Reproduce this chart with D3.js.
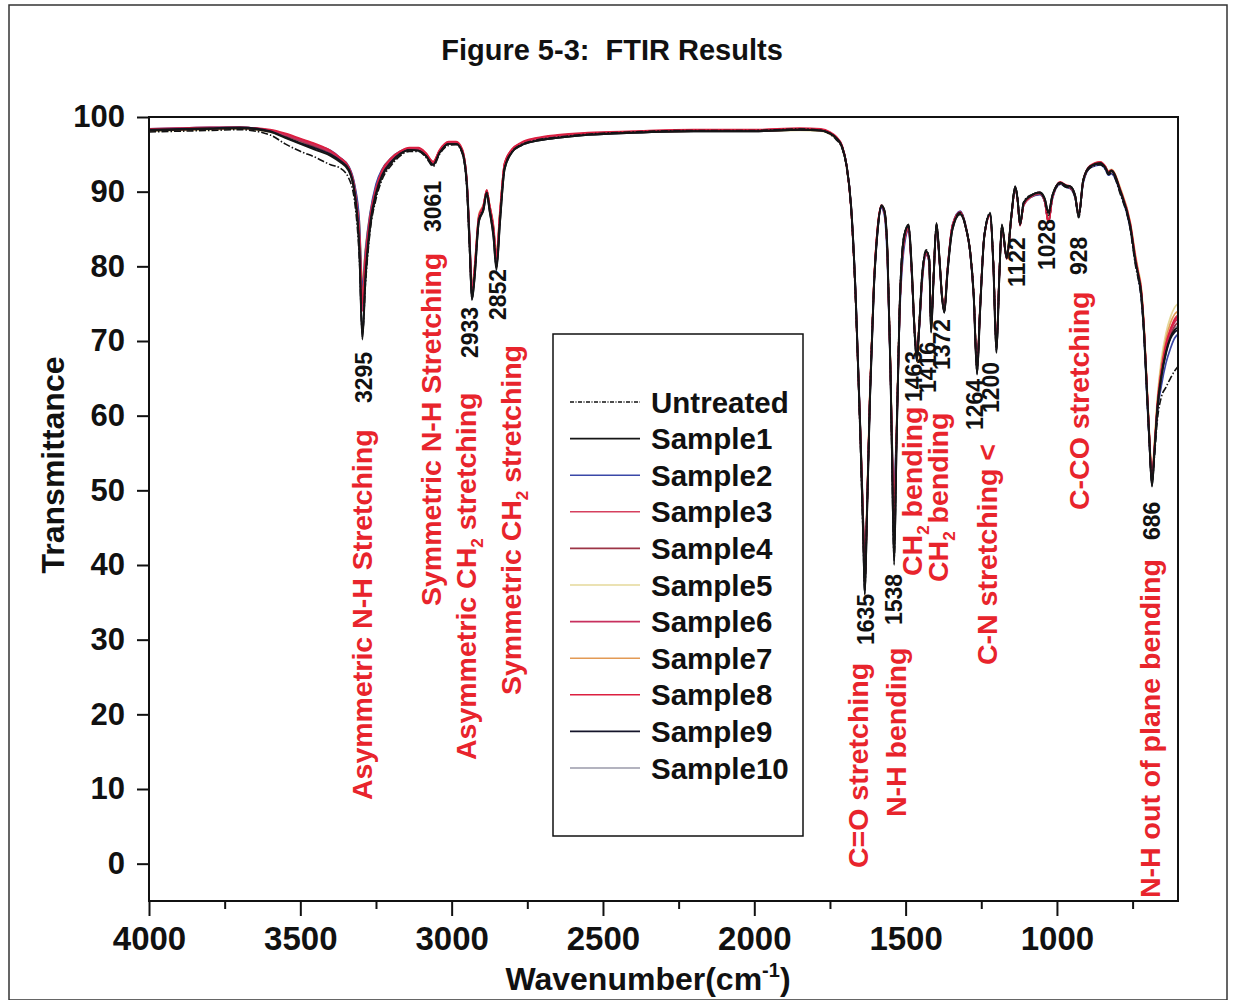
<!DOCTYPE html>
<html><head><meta charset="utf-8">
<script src="https://cdn.jsdelivr.net/npm/d3@7/dist/d3.min.js"></script>
<style>
body{margin:0;background:#fff}
svg text{font-family:"Liberation Sans",Arial,Helvetica,sans-serif;font-weight:bold;white-space:pre}
</style>
</head><body>
<svg id="chart" width="1235" height="1000"></svg>
<script>
// ---------------- DATA ----------------
const wavenumbers = [
4000,3900,3800,3700,3600,3550,3500,3450,3400,3370,3340,3320,3305,3295,3285,3270,3250,3230,3200,3170,
3140,3110,3085,3061,3040,3010,2985,2965,2950,2940,2933,2925,2910,2895,2884,2875,2862,2852,2840,2825,
2800,2770,2720,2650,2550,2400,2200,2000,1850,1780,1750,1730,1710,1695,1680,1665,1650,1640,1635,1628,
1618,1605,1592,1580,1570,1560,1550,1545,1538,1530,1520,1505,1490,1480,1470,1463,1455,1445,1432,1422,
1416,1408,1398,1388,1380,1372,1362,1345,1320,1300,1287,1275,1264,1254,1240,1221,1210,1200,1190,1182,
1166,1150,1138,1130,1122,1110,1089,1056,1040,1028,1015,989,970,956,940,928,913,890,857,840,
830,820,790,758,740,731,722,712,704,695,686,678,668,655,640,625,611,600];

const untreated = [
98.0,98.1,98.2,98.3,97.6,96.4,95.4,94.6,93.6,93.2,91.8,88.5,81.0,71.0,77.5,84.5,89.0,91.6,93.5,94.8,
95.4,95.4,94.6,93.4,95.0,96.2,96.3,95.1,90.5,81.5,75.8,78.5,86.2,87.8,89.9,87.8,84.5,80.0,86.5,93.2,
95.4,96.3,96.9,97.3,97.7,98.0,98.2,98.2,98.4,98.2,97.7,97.0,95.8,93.2,87.5,75.0,57.0,43.0,36.5,46.5,
62.5,77.0,85.2,88.0,87.3,81.5,65.5,54.0,41.0,57.0,74.5,84.2,85.4,79.5,70.5,67.8,72.5,79.2,82.2,81.0,
71.5,78.5,85.6,80.8,76.2,74.0,79.2,85.2,87.2,85.2,82.2,76.5,66.0,74.5,84.2,87.2,80.5,68.8,79.2,85.4,
81.5,87.2,90.6,89.2,85.8,88.6,89.5,89.8,88.8,86.8,89.4,91.0,90.6,90.5,89.2,86.5,91.4,93.2,93.6,93.0,
92.3,92.5,89.6,85.0,80.0,78.2,75.8,70.5,64.0,56.5,51.0,54.5,59.5,62.5,63.8,65.0,66.0,66.6];

const sample1 = [
98.2,98.3,98.4,98.5,98.0,97.2,96.4,95.6,94.8,94.0,92.8,89.5,82.0,70.2,78.0,85.0,89.5,92.0,93.8,95.0,
95.6,95.5,94.8,93.6,95.2,96.4,96.4,95.3,91.0,82.0,75.5,78.0,86.0,87.5,89.8,87.5,84.0,79.5,86.0,93.0,
95.3,96.2,96.8,97.2,97.6,97.9,98.1,98.1,98.3,98.2,97.8,97.2,96.0,93.5,88.0,76.0,58.0,44.0,36.0,46.0,
62.0,77.0,85.0,88.2,87.5,82.0,66.0,55.0,40.0,56.0,74.0,84.0,85.6,80.0,71.0,67.3,72.0,79.0,82.0,81.0,
71.1,78.0,85.8,81.0,76.0,73.8,79.0,85.0,87.0,85.0,82.0,76.0,65.5,74.0,84.0,87.0,80.0,68.4,79.0,85.6,
81.1,87.0,90.7,89.0,85.6,88.5,89.4,89.9,89.0,87.2,89.5,91.2,90.8,90.7,89.5,86.7,91.6,93.4,93.8,93.2,
92.5,92.8,90.0,85.4,80.5,78.7,76.5,71.0,64.4,57.0,50.5,55.0,61.0,65.3,68.5,70.5,71.5,71.8];

const sample2 = [
98.4,98.5,98.6,98.6,98.2,97.6,96.9,96.2,95.5,94.6,93.4,90.8,86.0,77.0,82.0,87.0,91.0,93.0,94.5,95.4,
95.8,95.7,95.0,93.9,95.4,96.5,96.5,95.5,91.8,83.5,77.0,79.0,86.5,88.0,90.0,88.0,85.0,81.0,87.0,93.5,
95.6,96.4,97.0,97.4,97.8,98.0,98.2,98.2,98.4,98.3,97.9,97.3,96.1,93.6,88.0,76.5,59.0,46.0,38.0,47.0,
62.5,77.0,85.0,87.8,86.8,80.5,66.0,57.0,51.0,58.0,73.0,82.5,84.8,79.0,71.5,68.5,71.5,78.0,81.5,80.5,
72.5,78.0,85.2,80.5,76.0,74.5,79.5,85.6,87.4,85.2,82.0,76.2,66.5,74.5,84.2,87.0,80.5,69.5,79.5,85.2,
81.0,86.8,90.4,88.8,85.8,88.2,89.2,89.6,88.6,86.0,89.0,91.0,90.6,90.4,89.2,87.0,91.2,93.2,93.6,93.0,
92.2,92.4,89.8,85.2,80.6,78.6,76.0,70.5,63.5,56.5,51.5,55.0,60.5,64.0,67.0,69.0,70.4,70.9];

const sample3 = [
98.3,98.4,98.5,98.5,98.2,97.7,97.0,96.3,95.4,94.5,93.2,90.2,84.5,75.5,81.0,86.5,90.5,92.8,94.4,95.3,
95.8,95.8,95.1,94.0,95.5,96.6,96.6,95.6,91.5,83.0,76.5,79.5,86.8,88.2,90.2,88.3,85.5,81.5,87.5,93.8,
95.7,96.5,97.1,97.5,97.8,98.0,98.2,98.2,98.3,98.2,97.8,97.2,96.0,93.4,87.6,75.5,58.0,45.0,37.5,47.0,
63.0,77.5,85.5,88.0,87.2,81.5,66.5,56.0,46.0,57.5,74.0,83.5,85.2,79.5,71.0,68.0,72.0,78.5,81.8,80.8,
72.0,78.2,85.5,80.8,76.2,74.2,79.2,85.4,87.2,85.0,82.0,76.0,66.0,74.2,84.0,86.8,80.2,69.0,79.2,85.2,
81.0,86.8,90.5,88.8,85.4,88.2,89.2,89.8,88.6,85.8,89.2,91.2,90.8,90.6,89.4,86.8,91.5,93.4,93.9,93.3,
92.6,92.8,90.2,85.8,81.0,79.0,77.0,71.5,65.0,57.5,51.5,55.5,61.5,66.0,69.5,71.5,73.0,73.5];

const sample4 = [
98.2,98.3,98.4,98.5,98.1,97.5,96.8,96.0,95.2,94.3,93.0,90.0,84.0,76.0,81.0,86.0,90.2,92.5,94.2,95.2,
95.7,95.6,94.9,93.8,95.3,96.5,96.5,95.4,91.3,82.8,76.5,79.0,86.5,88.0,90.0,88.0,85.0,81.0,87.0,93.5,
95.5,96.4,97.0,97.4,97.7,98.0,98.1,98.1,98.3,98.2,97.8,97.2,96.0,93.5,87.8,75.8,58.5,45.5,37.0,46.5,
62.5,77.2,85.2,88.0,87.2,81.5,66.0,56.0,48.0,57.0,73.5,83.2,85.0,79.2,71.0,68.2,71.8,78.5,81.6,80.6,
72.0,78.0,85.4,80.6,76.0,74.0,79.2,85.4,87.2,85.0,82.0,76.0,66.0,74.2,84.0,86.8,80.2,69.0,79.2,85.2,
81.0,86.8,90.5,88.8,85.5,88.2,89.2,89.7,88.6,85.8,89.2,91.1,90.7,90.5,89.3,86.7,91.4,93.3,93.8,93.2,
92.5,92.7,90.0,85.5,80.8,78.8,76.6,71.2,64.6,57.2,51.2,55.2,61.0,65.5,68.8,70.8,72.0,72.5];

const sample5 = [
98.1,98.2,98.3,98.4,98.0,97.4,96.8,96.1,95.3,94.5,93.3,90.8,86.0,78.0,82.5,87.0,90.8,93.0,94.5,95.4,
95.8,95.7,95.0,94.0,95.5,96.6,96.6,95.6,91.8,83.5,77.5,79.8,87.0,88.3,90.2,88.4,85.6,82.0,87.8,93.8,
95.6,96.4,97.0,97.4,97.7,98.0,98.1,98.1,98.2,98.1,97.7,97.1,95.9,93.4,87.8,76.0,59.0,46.0,38.5,48.0,
63.5,77.8,85.5,88.0,87.2,81.8,67.0,57.5,49.0,58.5,74.0,83.5,85.2,79.8,71.8,69.0,72.5,78.8,81.8,80.8,
72.5,78.5,85.5,81.0,76.5,74.8,79.5,85.5,87.3,85.2,82.2,76.5,67.0,74.8,84.2,87.0,80.5,70.0,79.5,85.4,
81.4,87.0,90.6,88.9,85.6,88.3,89.3,89.8,88.8,86.2,89.3,91.2,90.8,90.6,89.4,87.0,91.5,93.4,94.0,93.4,
92.8,93.0,90.5,86.0,81.5,79.5,77.5,72.0,65.5,58.0,52.0,56.5,62.5,67.5,71.0,73.2,74.5,75.0];

const sample6 = [
98.3,98.4,98.5,98.6,98.2,97.6,96.9,96.2,95.3,94.4,93.0,89.8,83.5,74.0,80.0,86.0,90.0,92.6,94.3,95.3,
95.8,95.7,95.0,93.8,95.4,96.6,96.6,95.5,91.2,82.5,76.0,78.8,86.4,88.0,90.1,88.1,84.8,80.5,87.0,93.6,
95.6,96.5,97.1,97.5,97.8,98.0,98.2,98.2,98.4,98.3,97.9,97.3,96.1,93.5,87.8,75.5,58.0,45.0,37.2,46.8,
62.8,77.4,85.4,88.1,87.3,81.6,66.2,55.5,45.0,57.0,73.8,83.4,85.1,79.4,71.2,68.0,72.0,78.6,81.7,80.7,
71.8,78.2,85.5,80.8,76.1,74.1,79.2,85.4,87.2,85.0,82.0,76.1,66.2,74.3,84.0,86.8,80.2,69.2,79.2,85.2,
81.1,86.9,90.6,88.9,85.5,88.3,89.3,89.8,88.7,85.9,89.3,91.2,90.8,90.6,89.4,86.8,91.5,93.4,93.9,93.3,
92.6,92.8,90.1,85.6,80.8,78.9,76.8,71.4,64.8,57.4,51.4,55.4,61.4,65.8,69.2,71.2,72.5,73.0];

const sample7 = [
98.2,98.3,98.4,98.5,98.1,97.5,96.8,96.1,95.3,94.5,93.2,90.6,85.5,77.5,82.0,86.8,90.6,92.9,94.4,95.3,
95.7,95.6,94.9,93.9,95.4,96.5,96.5,95.5,91.6,83.2,77.0,79.5,86.8,88.2,90.1,88.3,85.3,81.5,87.5,93.7,
95.6,96.4,97.0,97.4,97.7,98.0,98.1,98.1,98.3,98.2,97.8,97.2,96.0,93.5,87.9,76.0,58.8,45.8,38.0,47.5,
63.2,77.6,85.4,88.0,87.2,81.7,66.6,56.8,48.5,58.0,73.8,83.4,85.1,79.6,71.5,68.6,72.2,78.7,81.7,80.7,
72.3,78.3,85.4,80.9,76.3,74.5,79.4,85.5,87.3,85.1,82.1,76.3,66.6,74.6,84.1,86.9,80.4,69.6,79.4,85.3,
81.3,86.9,90.5,88.9,85.6,88.3,89.3,89.8,88.7,86.0,89.2,91.2,90.8,90.6,89.4,86.9,91.5,93.4,93.9,93.3,
92.7,92.9,90.3,85.9,81.2,79.2,77.2,71.8,65.2,57.8,51.8,56.0,62.0,66.8,70.2,72.4,73.6,74.0];

const sample8 = [
98.4,98.5,98.6,98.6,98.3,97.8,97.1,96.4,95.5,94.6,93.3,90.2,84.2,75.0,80.8,86.4,90.4,92.8,94.5,95.4,
95.9,95.9,95.2,94.0,95.6,96.7,96.7,95.7,91.4,82.8,76.2,79.2,86.6,88.1,90.2,88.2,85.2,81.2,87.3,93.8,
95.7,96.6,97.2,97.6,97.9,98.1,98.3,98.3,98.5,98.4,98.0,97.4,96.2,93.6,87.9,75.8,58.4,45.4,37.4,47.0,
62.9,77.5,85.5,88.2,87.4,81.8,66.4,55.8,46.5,57.2,74.0,83.6,85.3,79.6,71.2,68.2,72.2,78.8,81.9,80.9,
72.0,78.3,85.6,80.9,76.3,74.3,79.4,85.5,87.3,85.1,82.1,76.2,66.3,74.4,84.1,86.9,80.3,69.3,79.3,85.3,
81.2,86.9,90.6,88.9,85.5,88.3,89.3,89.9,88.7,85.9,89.3,91.3,90.9,90.7,89.5,86.9,91.6,93.5,94.0,93.4,
92.7,92.9,90.2,85.7,81.0,79.1,77.0,71.6,65.0,57.6,51.6,55.6,61.6,66.0,69.5,71.6,72.8,73.3];

const sample9 = [
98.3,98.4,98.5,98.6,98.1,97.3,96.5,95.8,95.0,94.2,93.0,89.8,82.5,70.5,78.5,85.5,89.8,92.2,94.0,95.1,
95.6,95.5,94.8,93.6,95.2,96.4,96.4,95.3,91.0,82.2,75.6,78.2,86.1,87.6,89.8,87.6,84.2,79.8,86.2,93.1,
95.3,96.2,96.8,97.2,97.6,97.9,98.1,98.1,98.3,98.2,97.8,97.2,96.0,93.5,88.0,76.0,58.2,44.2,36.2,46.2,
62.2,77.0,85.0,88.1,87.4,81.8,65.8,54.8,40.5,56.2,74.0,84.0,85.5,79.8,71.0,67.4,72.0,79.0,82.0,81.0,
71.2,78.0,85.7,80.9,76.0,73.8,79.0,85.0,87.0,85.0,82.0,76.0,65.6,74.0,84.0,87.0,80.0,68.5,79.0,85.5,
81.1,87.0,90.7,89.0,85.6,88.5,89.4,89.9,89.0,87.2,89.5,91.2,90.8,90.7,89.5,86.7,91.6,93.4,93.8,93.2,
92.5,92.8,90.0,85.4,80.5,78.7,76.5,71.0,64.4,57.0,50.6,55.0,61.0,65.2,68.3,70.3,71.2,71.5];

const sample10 = [
98.2,98.3,98.4,98.5,98.0,97.4,96.7,96.0,95.2,94.3,93.1,90.4,85.0,76.5,81.5,86.5,90.4,92.8,94.3,95.3,
95.7,95.6,94.9,93.8,95.3,96.5,96.5,95.4,91.5,83.0,76.8,79.2,86.6,88.0,90.0,88.0,85.0,81.0,87.0,93.5,
95.5,96.4,97.0,97.4,97.7,98.0,98.1,98.1,98.3,98.2,97.8,97.2,96.0,93.5,87.9,76.0,58.6,45.6,37.6,47.0,
62.8,77.2,85.2,88.0,87.2,81.4,66.2,56.4,50.0,57.5,73.4,83.2,85.0,79.2,71.2,68.4,71.8,78.4,81.6,80.6,
72.2,78.1,85.4,80.7,76.1,74.3,79.3,85.4,87.2,85.0,82.0,76.1,66.4,74.4,84.0,86.8,80.3,69.4,79.3,85.2,
81.1,86.8,90.5,88.8,85.6,88.2,89.2,89.7,88.6,85.9,89.2,91.1,90.7,90.5,89.3,86.8,91.4,93.3,93.8,93.2,
92.5,92.7,90.0,85.5,80.8,78.8,76.6,71.2,64.6,57.2,51.4,55.4,61.2,65.6,68.8,70.8,71.8,72.0];

const seriesNames = ["Untreated","Sample1","Sample2","Sample3","Sample4","Sample5","Sample6","Sample7","Sample8","Sample9","Sample10"];
const seriesValues = [untreated,sample1,sample2,sample3,sample4,sample5,sample6,sample7,sample8,sample9,sample10];

const xTickValues = [4000,3500,3000,2500,2000,1500,1000];
const xMinorTickValues = [3750,3250,2750,2250,1750,1250,750];
const yTickValues = [0,10,20,30,40,50,60,70,80,90,100];

const peakNumbers = [3295,3061,2933,2852,1635,1538,1463,1416,1372,1264,1200,1122,1028,928,686];
const bandTexts = ["Asymmetric N-H Stretching","Symmetric N-H Stretching","Asymmetric CH_2 stretching",
  "Symmetric CH_2 stretching","C=O stretching","N-H bending","CH_2 bending","CH_2 bending",
  "C-N stretching <","C-CO stretching","N-H out of plane bending"];

// ---------------- STYLE / LAYOUT ----------------
const seriesStyle = {
  Untreated:{color:"#111111",width:1.6,dash:"7,2,1.5,2"},
  Sample1:{color:"#151515",width:1.9},
  Sample2:{color:"#3a48a8",width:1.7},
  Sample3:{color:"#d6405e",width:1.7},
  Sample4:{color:"#9c3446",width:1.7},
  Sample5:{color:"#e4d89a",width:1.7},
  Sample6:{color:"#c8305e",width:1.7},
  Sample7:{color:"#e39a55",width:1.7},
  Sample8:{color:"#dc1f40",width:1.7},
  Sample9:{color:"#14142a",width:1.9},
  Sample10:{color:"#9a9aaa",width:1.7}
};
const drawOrder = ["Sample10","Sample5","Sample7","Sample2","Sample4","Sample3","Sample6","Sample8","Untreated","Sample9","Sample1"];

// label layout: [dx from peak in px, bottom y px]
const peakLayout = [[1,403],[0,232],[-2,358],[1,320],[1,645],[0,625],[-3,402],[-3,393],[-3,370],[-2,430],[-6,413],[-3,287],[-2,270],[0,275],[0,540]];
const bandLayout = [[362,800],[431,606],[466,760],[511,695],[858,868],[896,817],[912,576],[938,582],[987,665],[1079,510],[1150,898]];

const W = 1235, H = 1000;
const M = {left:149, right:1178, top:117, bottom:901};
const RED = "#e8242c";

const svg = d3.select("#chart");
svg.append("rect").attr("width",W).attr("height",H).attr("fill","#fff");
// outer frame
svg.append("rect").attr("x",9).attr("y",5).attr("width",1218).attr("height",995)
  .attr("fill","none").attr("stroke","#333").attr("stroke-width",1.5);

const x = d3.scaleLinear().domain([4000,600]).range([M.left,M.right]);
const y = d3.scaleLinear().domain([-5,100]).range([M.bottom,M.top]);

// title
svg.append("text").attr("x",612).attr("y",60).attr("text-anchor","middle")
  .attr("font-size",29).attr("fill","#111").text("Figure 5-3:  FTIR Results");

// clip
svg.append("clipPath").attr("id","clip").append("rect")
  .attr("x",M.left).attr("y",M.top).attr("width",M.right-M.left).attr("height",M.bottom-M.top);

// lines
const line = d3.line().x((d,i)=>x(wavenumbers[i])).y(d=>y(d)).curve(d3.curveMonotoneX);
const gLines = svg.append("g").attr("clip-path","url(#clip)");
drawOrder.forEach(name=>{
  const idx = seriesNames.indexOf(name);
  const st = seriesStyle[name];
  gLines.append("path").datum(seriesValues[idx])
    .attr("d",line).attr("fill","none").attr("stroke",st.color)
    .attr("stroke-width",st.width).attr("stroke-linejoin","round")
    .attr("stroke-dasharray",st.dash||null);
});

// axes
const xAxis = svg.append("g").attr("transform",`translate(0,${M.bottom})`)
  .call(d3.axisBottom(x).tickValues(xTickValues).tickSize(15).tickSizeOuter(0).tickPadding(10).tickFormat(d3.format("d")));
xAxis.selectAll("text").attr("font-size",33).attr("fill","#111").attr("dy","0.75em").attr("y",24);
const xMinor = svg.append("g").attr("transform",`translate(0,${M.bottom})`)
  .call(d3.axisBottom(x).tickValues(xMinorTickValues).tickSize(8).tickSizeOuter(0).tickFormat(""));
const yAxis = svg.append("g").attr("transform",`translate(${M.left},0)`)
  .call(d3.axisLeft(y).tickValues(yTickValues).tickSize(12).tickSizeOuter(0).tickPadding(12));
yAxis.selectAll("text").attr("font-size",31).attr("fill","#111");
[xAxis,xMinor,yAxis].forEach(g=>{
  g.select(".domain").remove();
  g.selectAll("line").attr("stroke","#111").attr("stroke-width",2);
});
// plot box
svg.append("rect").attr("x",M.left).attr("y",M.top).attr("width",M.right-M.left).attr("height",M.bottom-M.top)
  .attr("fill","none").attr("stroke","#111").attr("stroke-width",2);

// axis titles
const xt = svg.append("text").attr("x",648).attr("y",990).attr("text-anchor","middle").attr("font-size",32).attr("fill","#111");
xt.append("tspan").text("Wavenumber(cm");
xt.append("tspan").attr("font-size",20).attr("dy",-13).text("-1");
xt.append("tspan").attr("dy",13).text(")");
svg.append("text").attr("transform","translate(64,465) rotate(-90)").attr("text-anchor","middle")
  .attr("font-size",32).attr("fill","#111").text("Transmittance");

// vertical text helper (reads bottom-to-top), cx = column centre, by = bottom
function vText(cx, by, str, size, color){
  const t = svg.append("text").attr("transform",`translate(${cx},${by}) rotate(-90) translate(0,${(0.36*size).toFixed(1)})`)
    .attr("font-size",size).attr("fill",color);
  const parts = str.split("_");
  parts.forEach((p,i)=>{
    if(i===0){ t.append("tspan").text(p); return; }
    t.append("tspan").attr("font-size",size*0.6).attr("dy",size*0.22).text(p[0]);
    t.append("tspan").attr("dy",-size*0.22).text(p.slice(1));
  });
  return t;
}

// band assignments
bandTexts.forEach((s,i)=>{
  vText(bandLayout[i][0], bandLayout[i][1], s, 28.5, RED);
});
// peak numbers
peakNumbers.forEach((p,i)=>{
  vText(x(p)+peakLayout[i][0], peakLayout[i][1], String(p), 23, "#111");
});

// legend
const lg = svg.append("g");
lg.append("rect").attr("x",553).attr("y",334).attr("width",250).attr("height",502)
  .attr("fill","#fff").attr("stroke","#111").attr("stroke-width",1.5);
seriesNames.forEach((name,i)=>{
  const cy = 402 + i*36.6;
  const st = seriesStyle[name];
  lg.append("line").attr("x1",570).attr("x2",640).attr("y1",cy).attr("y2",cy)
    .attr("stroke",st.color).attr("stroke-width",1.6).attr("stroke-dasharray",st.dash? "4,1.5,1,1.5":null);
  lg.append("text").attr("x",651).attr("y",cy).attr("dy","0.36em").attr("font-size",29.5)
    .attr("fill","#111").text(name);
});
</script>
</body></html>
